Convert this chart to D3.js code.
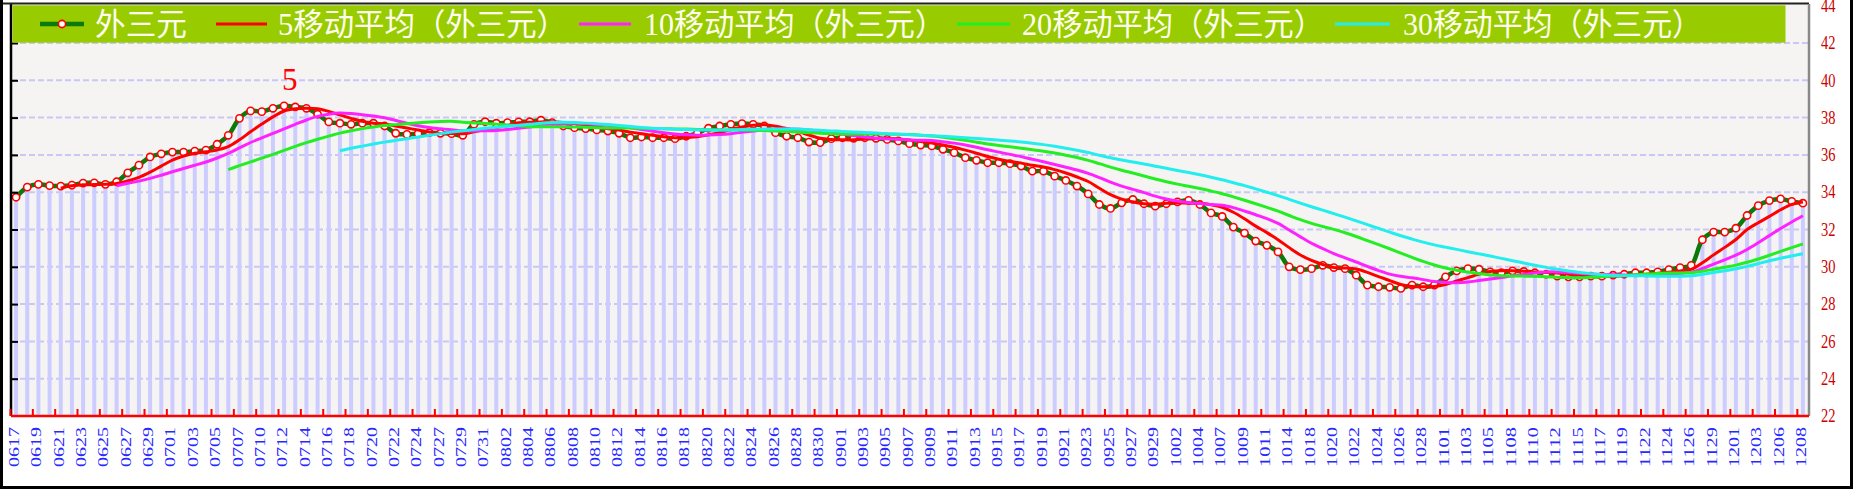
<!DOCTYPE html>
<html><head><meta charset="utf-8">
<script src="https://cdn.jsdelivr.net/npm/d3@7"></script>
<style>
html,body{margin:0;padding:0;background:#fff;overflow:hidden}
svg{display:block}
</style></head>
<body>
<svg id="chart" width="1853" height="489"></svg>
<script>
// ---------------- data ----------------
const categories = [
"0617","0618","0619","0620","0621","0622","0623","0624","0625","0626",
"0627","0628","0629","0630","0701","0702","0703","0704","0705","0706",
"0707","0708","0710","0711","0712","0713","0714","0715","0716","0717",
"0718","0719","0720","0721","0722","0723","0724","0725","0727","0728",
"0729","0730","0731","0801","0802","0803","0804","0805","0806","0807",
"0808","0809","0810","0811","0812","0813","0814","0815","0816","0817",
"0818","0819","0820","0821","0822","0823","0824","0825","0826","0827",
"0828","0829","0830","0831","0901","0902","0903","0904","0905","0906",
"0907","0908","0909","0910","0911","0912","0913","0914","0915","0916",
"0917","0918","0919","0920","0921","0922","0923","0924","0925","0926",
"0927","0928","0929","0930","1002","1003","1004","1005","1007","1008",
"1009","1010","1011","1012","1014","1016","1018","1019","1020","1021",
"1022","1023","1024","1025","1026","1027","1028","1030","1101","1102",
"1103","1104","1105","1106","1108","1109","1110","1111","1112","1113",
"1115","1116","1117","1118","1119","1120","1122","1123","1124","1125",
"1126","1127","1129","1130","1201","1202","1203","1204","1206","1207",
"1208"];

const waiSanYuan = [
33.73,34.27,34.42,34.35,34.33,34.38,34.49,34.50,34.42,34.56,
35.04,35.45,35.89,36.06,36.15,36.15,36.20,36.26,36.57,37.05,
37.96,38.36,38.32,38.50,38.63,38.57,38.50,38.18,37.77,37.70,
37.64,37.70,37.70,37.55,37.16,37.10,37.14,37.19,37.16,37.14,
37.05,37.64,37.78,37.70,37.73,37.77,37.78,37.86,37.73,37.55,
37.46,37.41,37.34,37.28,37.16,36.92,36.96,36.92,36.92,36.87,
37.00,37.16,37.43,37.55,37.64,37.68,37.64,37.55,37.19,37.00,
36.92,36.69,36.66,36.87,36.92,36.89,36.92,36.89,36.83,36.75,
36.60,36.53,36.48,36.30,36.12,35.85,35.71,35.58,35.58,35.53,
35.40,35.13,35.13,34.86,34.63,34.33,33.91,33.34,33.13,33.43,
33.61,33.38,33.25,33.38,33.48,33.56,33.34,32.89,32.70,32.13,
31.81,31.38,31.15,30.80,30.00,29.85,29.90,30.08,29.96,29.90,
29.55,29.02,28.93,28.90,28.84,29.02,28.93,29.02,29.46,29.78,
29.90,29.87,29.73,29.68,29.78,29.75,29.68,29.60,29.50,29.46,
29.46,29.50,29.50,29.55,29.60,29.68,29.68,29.73,29.85,29.96,
30.08,31.45,31.86,31.86,32.07,32.75,33.28,33.55,33.64,33.51,
33.41];

const maWindows = [5, 10, 20, 30];
const seriesNames = ["外三元","5移动平均（外三元）","10移动平均（外三元）","20移动平均（外三元）","30移动平均（外三元）"];
const yTicks = [22,24,26,28,30,32,34,36,38,40,42,44];
const gridTicks = [24,26,28,30,32,34,36,38,40,42];
const xTickLabels = categories.filter((d,i) => i % 2 === 0);
const annotationText = "5";
const annotationCategory = "0712";
const annotationValue = 39.5;

// moving averages (trailing window, as the chart's series titles say)
function movingAverage(vals, n){
  return vals.map((v,i) => i < n-1 ? null : d3.mean(vals.slice(i-n+1, i+1)));
}
const maSeries = maWindows.map(n => movingAverage(waiSanYuan, n));

// ---------------- layout ----------------
const svg = d3.select("#chart");
const W = 1853, H = 489;
const plot = {left: 11, right: 1809, top: 4, bottom: 416};

const x = d3.scaleBand().domain(categories).range([plot.left - 0.5, plot.right - 0.5]).padding(0);
const y = d3.scaleLinear().domain([22, 44]).range([plot.bottom, 5.7]);
const cx = d => x(d) + x.bandwidth()/2;

const serif = "'Liberation Serif','Noto Sans CJK SC',serif";
const maColors = ["#ff0000","#ff22ff","#22ee22","#22eeee"];

// plot background (paper)
svg.append("rect").attr("x", plot.left).attr("y", plot.top)
  .attr("width", plot.right - plot.left).attr("height", plot.bottom - plot.top)
  .attr("fill", "#f5f4f3");

// gridlines
svg.append("g").selectAll("line").data(gridTicks).join("line")
  .attr("x1", plot.left).attr("x2", plot.right)
  .attr("y1", d => y(d)).attr("y2", d => y(d))
  .attr("stroke", "#c8c8f6").attr("stroke-width", 2).attr("stroke-dasharray", "6,3");

// bars
svg.append("g").selectAll("rect").data(waiSanYuan).join("rect")
  .attr("x", (d,i) => cx(categories[i]) - 2)
  .attr("width", 4)
  .attr("y", d => y(d))
  .attr("height", d => y(22) - y(d))
  .attr("fill", "#ccccff");

// main line
const line = d3.line()
  .defined(d => d.v != null)
  .x(d => cx(d.c)).y(d => y(d.v))
  .curve(d3.curveCatmullRom.alpha(0.5));

const mainData = waiSanYuan.map((v,i) => ({c: categories[i], v}));
svg.append("path").datum(mainData).attr("d", line)
  .attr("fill", "none").attr("stroke", "#0a7a0a").attr("stroke-width", 4.5);
svg.append("g").selectAll("circle").data(mainData).join("circle")
  .attr("cx", d => cx(d.c)).attr("cy", d => y(d.v)).attr("r", 3.6)
  .attr("fill", "#fff").attr("stroke", "#ff0000").attr("stroke-width", 1.6);

// moving averages
maSeries.forEach((s, k) => {
  const data = s.map((v,i) => ({c: categories[i], v}));
  svg.append("path").datum(data).attr("d", line)
    .attr("fill", "none").attr("stroke", maColors[k]).attr("stroke-width", 3);
});

// left axis (black, inward ticks, no labels)
const leftAxis = svg.append("g").attr("transform", `translate(${plot.left},0)`)
  .call(d3.axisRight(y).tickValues(gridTicks).tickSizeInner(7).tickSizeOuter(0).tickFormat(""));
leftAxis.select(".domain").remove();
leftAxis.selectAll("line").attr("stroke", "#000").attr("stroke-width", 2);
svg.append("line").attr("x1", plot.left).attr("x2", plot.left)
  .attr("y1", plot.top).attr("y2", plot.bottom).attr("stroke", "#000").attr("stroke-width", 2.5);

// top border and right border of plot
svg.append("line").attr("x1", 0).attr("x2", plot.right)
  .attr("y1", plot.top - 0.5).attr("y2", plot.top - 0.5).attr("stroke", "#222").attr("stroke-width", 2);
svg.append("line").attr("x1", plot.right).attr("x2", plot.right)
  .attr("y1", plot.top).attr("y2", plot.bottom).attr("stroke", "#888").attr("stroke-width", 2.5);

// right axis labels
const rightAxis = svg.append("g").attr("transform", `translate(${plot.right},0)`)
  .call(d3.axisRight(y).tickValues(yTicks).tickSize(0).tickPadding(12));
rightAxis.select(".domain").remove();
rightAxis.selectAll("text")
  .attr("fill", "#cc0000").attr("font-family", serif).attr("font-size", 18)
  .attr("textLength", 14.5).attr("lengthAdjust", "spacingAndGlyphs");

// bottom axis
const bottomAxis = svg.append("g").attr("transform", `translate(0,${plot.bottom})`)
  .call(d3.axisBottom(x).tickValues(xTickLabels).tickSizeInner(-7).tickSizeOuter(0).tickPadding(0));
bottomAxis.select(".domain").attr("stroke", "#ff0000").attr("stroke-width", 2.5)
  .attr("d", `M${plot.left},0H${plot.right}`);
bottomAxis.selectAll(".tick line")
  .attr("stroke", "#ff0000").attr("stroke-width", 2)
  .attr("x1", -x.step()/2).attr("x2", -x.step()/2);
bottomAxis.selectAll(".tick text")
  .attr("fill", "#2828ff").attr("font-family", serif).attr("font-size", 15)
  .attr("text-anchor", "end")
  .attr("transform", "rotate(-90)")
  .attr("textLength", 40).attr("lengthAdjust", "spacingAndGlyphs")
  .attr("x", -11).attr("y", -2.2).attr("dy", "0.35em");

// annotation
svg.append("text").text(annotationText)
  .attr("x", x(annotationCategory) + x.step())
  .attr("y", y(annotationValue))
  .attr("text-anchor", "middle")
  .attr("fill", "#ff0000").attr("font-family", serif).attr("font-size", 31);

// legend
const lg = svg.append("g");
lg.append("rect").attr("x", 12.5).attr("y", 5.3).attr("width", 1773).attr("height", 37.4).attr("fill", "#99cc00");
const legendItems = [
  {name: seriesNames[0], color: "#0a7a0a", x0: 40, x1: 84, tx: 95, w: 92, marker: true},
  {name: seriesNames[1], color: maColors[0], x0: 216, x1: 267, tx: 278, w: 289},
  {name: seriesNames[2], color: maColors[1], x0: 579, x1: 631, tx: 644, w: 301},
  {name: seriesNames[3], color: maColors[2], x0: 957, x1: 1010, tx: 1022, w: 302},
  {name: seriesNames[4], color: maColors[3], x0: 1335, x1: 1390, tx: 1403, w: 299}
];
const ly = 24;
legendItems.forEach(it => {
  lg.append("line").attr("x1", it.x0).attr("x2", it.x1).attr("y1", ly).attr("y2", ly)
    .attr("stroke", it.color).attr("stroke-width", it.marker ? 4.5 : 3);
  if (it.marker) {
    lg.append("circle").attr("cx", (it.x0 + it.x1)/2).attr("cy", ly).attr("r", 3.6)
      .attr("fill", "#fff").attr("stroke", "#ff0000").attr("stroke-width", 1.6);
  }
  lg.append("text").text(it.name).attr("x", it.tx).attr("y", ly)
    .attr("dominant-baseline", "central")
    .attr("textLength", it.w).attr("lengthAdjust", "spacingAndGlyphs")
    .attr("fill", "#fffff0").attr("font-family", serif).attr("font-size", 31);
});

// outer frame (left, right, bottom)
svg.append("path").attr("d", `M1.5,0V${H-1.5}H${W-1.5}V0`)
  .attr("fill", "none").attr("stroke", "#000").attr("stroke-width", 3);
</script>
</body></html>
